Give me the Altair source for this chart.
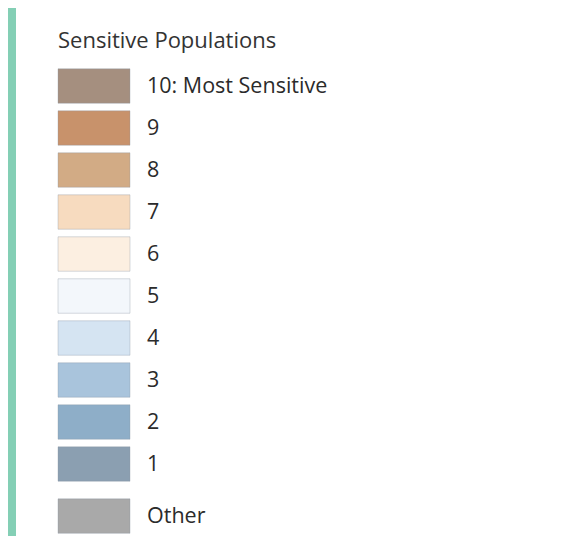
import altair as alt
import pandas as pd

title_text = "Sensitive Populations"
labels = ["10: Most Sensitive", "9", "8", "7", "6", "5", "4", "3", "2", "1", "Other"]
colors = ["#a58f7f", "#c8926b", "#d2ab85", "#f7dbbf", "#fcefe1", "#f3f7fb",
          "#d5e4f2", "#a9c4dc", "#8eaec8", "#8b9fb1", "#a9a9a9"]
rank = list(range(len(labels)))

df = pd.DataFrame({"label": labels, "color": colors, "rank": rank})

W, H = 551, 526
yscale = alt.Scale(domain=[-1.81, 10.714], range=[0, H], nice=False, zero=False)

base = alt.Chart(df).transform_calculate(
    pos="datum.rank + (datum.label == 'Other' ? 0.24 : 0)",
    lo="datum.pos - 0.41",
    hi="datum.pos + 0.41",
)

panel = alt.Chart(pd.DataFrame({"k": [0]})).mark_rect(color="white").encode(
    x=alt.value(8), x2=alt.value(W), y=alt.value(-2), y2=alt.value(H)
)

swatches = base.mark_rect(stroke="#8a96a3", strokeOpacity=0.35, strokeWidth=1).encode(
    x=alt.value(50), x2=alt.value(122),
    y=alt.Y("lo:Q", scale=yscale, axis=None),
    y2="hi:Q",
    color=alt.Color("color:N", scale=None, legend=None),
)

texts = base.mark_text(align="left", baseline="middle", font="Open Sans",
                       fontSize=21.5, color="#2b2b2b", dy=1).encode(
    x=alt.value(139),
    y=alt.Y("pos:Q", scale=yscale, axis=None),
    text="label:N",
)

title = alt.Chart(pd.DataFrame({"t": [title_text]})).mark_text(
    align="left", baseline="middle", font="Open Sans", fontSize=22, color="#333333"
).encode(x=alt.value(50), y=alt.value(31), text="t:N")

chart = alt.layer(panel, swatches, texts, title).properties(
    width=W, height=H, padding=0, background="#84cfb5"
).configure_view(stroke=None)

chart.save("out.html", embed_options={"renderer": "svg", "actions": False})
